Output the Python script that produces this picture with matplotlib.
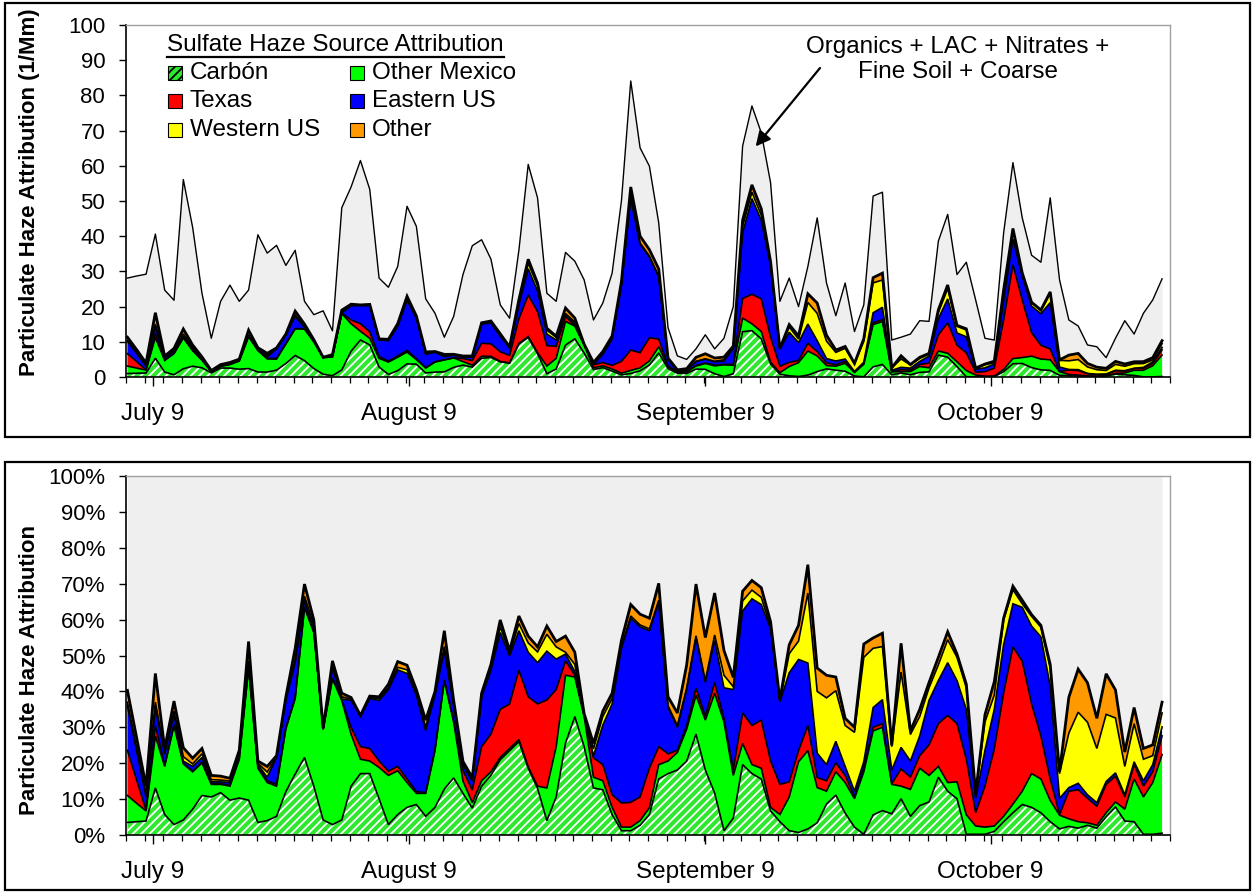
import numpy as np
import matplotlib
matplotlib.use('Agg')
import matplotlib.pyplot as plt
from matplotlib.patches import Rectangle
from matplotlib.lines import Line2D

plt.rcParams['font.family'] = ['Liberation Sans', 'DejaVu Sans']
plt.rcParams['hatch.linewidth'] = 1.3
plt.rcParams['hatch.color'] = 'white'

# ---------------- data ----------------
sources = ['Carbón', 'Other Mexico', 'Texas', 'Eastern US', 'Western US', 'Other']
colors = ['#2ee82e', '#00ff00', '#ff0000', '#0000ff', '#ffff00', '#ff9900']
rest_label = 'Organics + LAC + Nitrates +\nFine Soil + Coarse'
date_labels = ['July 9', 'August 9', 'September 9', 'October 9']
date_label_pos = [2.7, 30.2, 62.0, 92.6]   # day index of each label

# total particulate haze (1/Mm), one value per day
total = [28.1, 28.7, 29.2, 40.6, 24.7, 21.8, 56.1, 42.5, 23.8, 11.0,
         21.5, 26.1, 21.5, 24.7, 40.4, 35.2, 37.4, 31.7, 36.0, 21.5,
         17.7, 18.8, 13.1, 48.1, 54.0, 61.5, 53.3, 28.1, 25.5, 31.4,
         48.5, 42.8, 22.2, 18.1, 11.3, 17.2, 29.1, 37.3, 39.0, 33.5,
         20.5, 16.7, 36.0, 60.4, 50.9, 23.8, 21.5, 35.4, 32.9, 27.6,
         16.2, 21.0, 29.5, 50.0, 84.1, 65.1, 59.9, 43.8, 14.0, 6.0,
         5.0, 8.0, 12.0, 8.0, 11.0, 20.0, 65.6, 77.0, 69.4, 55.2,
         21.5, 28.1, 20.0, 31.4, 45.2, 26.7, 17.4, 26.7, 12.9, 20.5,
         51.4, 52.5, 10.5, 11.3, 12.2, 16.0, 15.8, 38.6, 46.2, 29.1,
         32.6, 21.9, 11.0, 10.5, 40.9, 60.9, 45.2, 34.6, 32.6, 50.9,
         27.6, 16.2, 14.5, 9.1, 8.6, 5.5, 11.0, 16.0, 12.2, 18.1,
         21.9, 27.9]

# cumulative share of total haze (%) at the top of each source layer
top_carbon = [3.5, 3.7, 3.9, 13.1, 5.7, 2.9, 4.2, 7.2, 11.0, 10.6,
              11.8, 9.7, 10.3, 9.7, 3.5, 4.0, 5.2, 12.1, 17.0, 21.6,
              13.6, 4.2, 2.9, 4.2, 13.6, 17.1, 17.1, 10.1, 2.9, 5.7,
              7.7, 8.5, 5.2, 7.7, 12.8, 15.9, 11.6, 7.5, 13.6, 16.6,
              21.0, 23.5, 26.0, 18.6, 13.0, 4.0, 10.6, 25.6, 33.0, 24.6,
              13.1, 12.6, 5.7, 1.2, 1.2, 2.7, 5.7, 15.6, 17.1, 18.1,
              20.6, 28.1, 18.1, 11.7, 1.2, 4.7, 19.6, 17.1, 15.6, 6.7,
              3.7, 1.2, 0.7, 1.7, 3.4, 8.6, 11.1, 6.1, 2.2, 0.2,
              5.6, 6.8, 5.9, 10.1, 5.2, 8.2, 9.2, 16.1, 12.2, 10.1,
              0.2, 0.2, 0.2, 1.0, 3.7, 6.2, 8.5, 7.7, 6.2, 3.7,
              1.7, 2.4, 1.9, 2.7, 1.9, 5.1, 7.8, 3.9, 3.7, 0.2,
              0.2, 0.5]
top_mexico = [11.0, 8.8, 6.7, 27.6, 19.1, 30.5, 19.8, 17.6, 20.1, 14.1,
              14.1, 13.6, 21.1, 46.5, 18.6, 14.6, 13.6, 29.6, 38.0, 63.4,
              56.4, 29.4, 43.5, 37.5, 28.0, 21.1, 20.6, 18.8, 16.6, 17.9,
              14.6, 11.6, 11.6, 23.6, 43.0, 31.5, 15.0, 9.0, 15.1, 17.6,
              21.6, 24.1, 26.6, 19.0, 13.6, 13.1, 24.6, 44.5, 44.0, 33.0,
              16.1, 15.1, 7.7, 2.2, 2.2, 4.0, 7.6, 19.6, 20.6, 23.0,
              29.5, 38.9, 32.0, 39.5, 31.5, 16.6, 25.5, 19.6, 18.6, 7.7,
              5.7, 10.6, 20.4, 23.5, 13.2, 12.2, 17.6, 14.6, 10.1, 17.6,
              29.0, 30.0, 14.1, 13.6, 12.7, 18.6, 16.6, 19.1, 14.6, 14.8,
              5.6, 2.5, 2.2, 2.5, 5.2, 8.6, 12.2, 17.1, 15.6, 9.6,
              5.5, 4.5, 3.7, 3.4, 2.7, 6.2, 9.2, 7.2, 15.6, 10.6,
              14.6, 22.4]
top_texas = [23.6, 15.2, 6.9, 30.5, 19.5, 30.7, 20.0, 17.8, 20.3, 14.3,
             14.3, 13.8, 21.3, 46.7, 18.8, 15.1, 14.1, 29.8, 38.3, 63.6,
             56.6, 29.5, 43.7, 37.7, 30.0, 24.6, 24.1, 20.6, 17.8, 19.1,
             15.6, 12.1, 11.8, 23.8, 43.2, 31.7, 18.0, 12.5, 24.6, 28.1,
             35.0, 36.5, 45.9, 38.5, 36.5, 37.6, 40.5, 48.5, 44.5, 33.2,
             21.5, 19.6, 11.2, 8.9, 9.1, 10.6, 18.6, 24.6, 22.6, 23.6,
             30.5, 40.9, 33.0, 42.5, 32.5, 18.1, 34.0, 30.5, 32.0, 20.6,
             14.1, 14.8, 23.5, 30.5, 16.0, 15.1, 20.1, 16.6, 10.6, 18.6,
             30.0, 31.0, 14.3, 18.4, 16.1, 22.1, 25.1, 31.0, 33.3, 31.0,
             21.1, 6.2, 13.6, 24.0, 39.5, 52.4, 48.4, 36.5, 27.6, 15.6,
             5.7, 12.2, 12.6, 10.2, 8.0, 14.1, 16.4, 10.6, 19.6, 13.6,
             17.6, 27.6]
top_eastern = [36.0, 23.3, 10.6, 35.5, 22.6, 33.5, 20.6, 19.1, 21.6, 14.8,
               14.8, 14.6, 22.6, 47.5, 19.6, 16.1, 21.6, 37.5, 48.0, 65.4,
               57.4, 29.6, 46.5, 37.9, 37.5, 33.0, 38.0, 37.5, 40.5, 46.0,
               45.0, 39.0, 29.1, 39.0, 51.4, 36.0, 19.5, 15.0, 38.5, 45.9,
               56.4, 49.9, 56.9, 50.9, 48.0, 51.2, 49.0, 50.4, 45.5, 33.4,
               22.0, 30.6, 36.5, 52.0, 60.4, 58.0, 56.9, 64.9, 35.5, 30.0,
               40.5, 55.0, 42.5, 54.2, 41.0, 40.5, 62.4, 65.8, 64.2, 57.5,
               37.1, 45.2, 48.9, 47.9, 22.8, 19.6, 26.1, 19.1, 12.2, 20.4,
               35.5, 37.7, 18.1, 24.4, 20.6, 27.6, 37.5, 43.0, 48.0, 43.0,
               35.0, 10.2, 23.6, 35.0, 53.0, 64.4, 63.4, 58.2, 55.2, 41.5,
               10.2, 13.2, 14.4, 11.2, 9.0, 14.9, 17.3, 11.2, 20.4, 15.1,
               19.6, 30.1]
top_western = [37.0, 24.2, 11.5, 37.0, 23.1, 34.5, 21.8, 19.8, 22.6, 15.4,
               15.3, 15.0, 23.0, 48.5, 20.0, 17.5, 21.8, 38.0, 49.0, 66.5,
               58.5, 29.6, 47.5, 38.5, 37.8, 33.1, 38.3, 38.0, 41.0, 46.7,
               46.0, 39.5, 30.0, 39.3, 52.5, 36.7, 20.0, 15.5, 39.0, 46.5,
               58.0, 50.5, 58.9, 53.5, 51.0, 55.9, 52.4, 50.9, 47.5, 33.5,
               24.0, 33.0, 38.0, 52.5, 61.0, 58.5, 57.4, 65.4, 36.0, 30.5,
               41.0, 55.5, 43.0, 55.7, 44.5, 41.3, 65.2, 68.2, 66.2, 58.0,
               37.2, 50.5, 54.0, 67.4, 40.0, 38.2, 40.2, 30.5, 28.6, 49.5,
               52.0, 52.5, 24.6, 45.4, 28.0, 33.0, 41.0, 47.4, 54.4, 49.5,
               41.0, 11.1, 31.5, 39.0, 59.9, 68.3, 64.4, 60.9, 57.9, 46.5,
               17.1, 28.4, 34.2, 31.4, 24.1, 33.6, 32.6, 19.1, 31.0, 21.1,
               22.1, 34.0]
top_other = [40.3, 27.0, 13.6, 45.0, 24.1, 37.3, 24.3, 21.4, 24.1, 16.6,
             16.4, 15.8, 23.6, 53.9, 20.6, 19.1, 22.1, 38.5, 52.0, 69.9,
             59.9, 29.8, 48.5, 39.5, 38.3, 33.3, 38.7, 38.5, 42.0, 48.3,
             47.3, 40.5, 32.0, 40.0, 56.9, 37.5, 20.5, 16.0, 39.5, 47.5,
             59.9, 51.4, 61.0, 55.4, 52.4, 58.2, 53.9, 55.4, 50.9, 33.8,
             25.5, 34.5, 39.5, 54.2, 64.2, 61.5, 60.4, 70.1, 38.5, 34.0,
             47.4, 69.9, 55.0, 67.4, 51.4, 43.9, 67.9, 70.9, 68.9, 59.4,
             37.6, 53.0, 58.4, 75.3, 46.5, 44.5, 44.0, 32.5, 30.0, 53.2,
             54.9, 56.2, 25.0, 53.4, 29.0, 35.0, 42.5, 49.5, 56.6, 50.4,
             42.0, 11.6, 33.5, 42.7, 60.4, 69.3, 65.4, 61.4, 58.4, 47.5,
             17.6, 38.4, 46.2, 42.4, 32.5, 44.9, 40.4, 23.1, 35.5, 24.1,
             25.1, 37.0]

# ---------------- figure ----------------
W, H = 1253, 894
FS = 17.5
fig = plt.figure(figsize=(W / 100, H / 100), dpi=100)


def px_axes(l, t, r, b):
    return fig.add_axes([l / W, 1 - b / H, (r - l) / W, (b - t) / H])


def frame(l, t, r, b):
    fig.add_artist(Rectangle((l / W, 1 - b / H), (r - l) / W, (b - t) / H,
                             transform=fig.transFigure, fill=False,
                             ec='black', lw=1.6))


frame(5, 3, 1250, 437)
frame(5, 462, 1250, 890)

ax1 = px_axes(126, 25, 1170, 377)
ax2 = px_axes(126, 476, 1170, 835)

tot = np.array(total)
x = np.arange(len(tot))
levels = np.maximum.accumulate(np.vstack([top_carbon, top_mexico, top_texas,
                                          top_eastern, top_western, top_other]),
                               axis=0)
GRAY = '#efefef'


def draw_stack(ax, lev):
    prev = np.zeros_like(lev[0])
    for k in range(lev.shape[0]):
        if k == 0:
            ax.fill_between(x, prev, lev[k], facecolor=colors[k],
                            edgecolor='white', hatch='////', lw=0, zorder=3)
        else:
            ax.fill_between(x, prev, lev[k], facecolor=colors[k], lw=0,
                            zorder=3)
        prev = lev[k]
    for k in range(lev.shape[0]):
        ax.plot(x, lev[k], color='black',
                lw=2.0 if k == lev.shape[0] - 1 else 1.2,
                zorder=4, solid_joinstyle='miter')


# top panel: absolute
ax1.fill_between(x, 0, tot, color=GRAY, lw=0, zorder=1)
ax1.plot(x, tot, color='black', lw=1.0, zorder=2)
draw_stack(ax1, levels / 100.0 * tot)

# bottom panel: relative
ax2.fill_between(x, levels[-1], 100, color=GRAY, lw=0, zorder=1)
draw_stack(ax2, levels)

minor_pos = np.arange(-0.15, len(tot), 2.0)
for ax in (ax1, ax2):
    ax.set_xlim(-0.15, len(tot) - 1)
    for s in ('left', 'bottom'):
        ax.spines[s].set_color('black')
        ax.spines[s].set_linewidth(1.2)
    for s in ('top', 'right'):
        ax.spines[s].set_color('#a0a0a0')
        ax.spines[s].set_linewidth(1.0)
    for s in ax.spines.values():
        s.set_zorder(6)
    ax.set_xticks(date_label_pos)
    ax.set_xticklabels(date_labels, fontsize=FS)
    ax.set_xticks(minor_pos, minor=True)
    ax.tick_params(axis='x', which='major', direction='out', length=6.5,
                   width=1, pad=12)
    ax.tick_params(axis='x', which='minor', direction='out', length=4.3,
                   width=0.9)
    ax.tick_params(axis='y', which='major', direction='out', length=5,
                   width=1, labelsize=16, pad=10)

ax1.set_ylim(0, 100)
ax1.set_yticks(np.arange(0, 101, 10))
ax2.set_ylim(0, 100)
ax2.set_yticks(np.arange(0, 101, 10))
ax2.set_yticklabels([f'{v}%' for v in range(0, 101, 10)])

fig.text(30 / W, 1 - 192 / H, 'Particulate Haze Attribution (1/Mm)',
         rotation=90, ha='center', va='center', fontsize=16, fontweight='bold')
fig.text(30 / W, 1 - 670 / H, 'Particulate Haze Attribution',
         rotation=90, ha='center', va='center', fontsize=16, fontweight='bold')

# legend (manual, underlined title)
title = fig.text(167 / W, 1 - 45 / H, 'Sulfate Haze Source Attribution',
                 ha='left', va='center', fontsize=FS)
col_x = [168, 350]
row_y = [73, 101, 130]
for k, name in enumerate(sources):
    cx = col_x[k % 2]
    cy = row_y[k // 2]
    fig.add_artist(Rectangle((cx / W, 1 - (cy + 7) / H), 14 / W, 14 / H,
                             transform=fig.transFigure, facecolor=colors[k],
                             edgecolor='black', lw=0.8,
                             hatch='////' if k == 0 else None))
    fig.text((cx + 22) / W, 1 - cy / H, name, ha='left', va='center',
             fontsize=FS)

fig.canvas.draw()
bb = title.get_window_extent()
fig.add_artist(Line2D([bb.x0 / W, bb.x1 / W], [(bb.y0 - 1) / H, (bb.y0 - 1) / H],
                      transform=fig.transFigure, color='black', lw=1.6))

# annotation for the grey remainder
fig.text(958 / W, 1 - 59.5 / H, rest_label, ha='center', va='center',
         fontsize=FS, linespacing=1.2)
ax1.annotate('', xy=(67.4, 65.5), xycoords='data',
             xytext=(820, H - 68), textcoords='figure pixels',
             arrowprops=dict(arrowstyle='-|>', color='black', lw=1.6,
                             mutation_scale=22, shrinkA=0, shrinkB=0))

fig.savefig('out.png', dpi=100)
